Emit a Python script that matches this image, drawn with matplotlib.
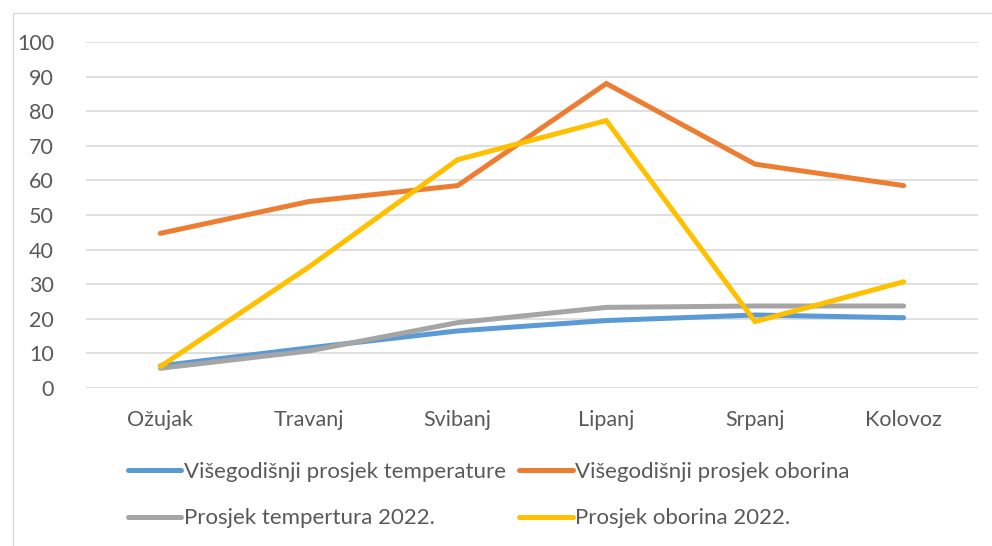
import matplotlib.pyplot as plt
from matplotlib.patches import Rectangle

# Data
months = ["Ožujak", "Travanj", "Svibanj", "Lipanj", "Srpanj", "Kolovoz"]
temp_avg = [6.4, 11.6, 16.5, 19.5, 21.1, 20.3]
rain_avg = [44.7, 53.9, 58.5, 88.0, 64.7, 58.5]
temp_2022 = [5.7, 10.7, 18.9, 23.3, 23.7, 23.7]
rain_2022 = [6.2, 35.0, 66.0, 77.3, 19.2, 30.7]
labels = ["Višegodišnji prosjek temperature", "Višegodišnji prosjek oborina",
          "Prosjek tempertura 2022.", "Prosjek oborina 2022."]
colors = ["#5b9bd5", "#ed7d31", "#a5a5a5", "#ffc000"]

plt.rcParams['font.family'] = ['Lato', 'DejaVu Sans']
txt = "#595959"

fig = plt.figure(figsize=(9.92, 5.46), dpi=100)
fig.patches.append(Rectangle((13 / 992, -0.01), 1.0, 1 - 13 / 546 + 0.01,
                             transform=fig.transFigure, fill=False,
                             edgecolor="#d9d9d9", linewidth=1))
ax = fig.add_axes([86 / 992, 1 - 388 / 546, (978 - 86) / 992, (388 - 42) / 546])

x = range(len(months))
series = [temp_avg, rain_avg, temp_2022, rain_2022]
lines = []
for vals, lab, col in zip(series, labels, colors):
    ln, = ax.plot(x, vals, color=col, linewidth=3.6, label=lab,
                  solid_capstyle="round", solid_joinstyle="miter")
    lines.append(ln)

ax.set_xlim(-0.5, len(months) - 0.5)
ax.set_ylim(0, 100)
ax.set_yticks(range(0, 101, 10))
ax.set_xticks(list(x))
ax.set_xticklabels(months)
ax.grid(axis="y", color="#d9d9d9", linewidth=1.2)
ax.set_axisbelow(True)
for s in ax.spines.values():
    s.set_visible(False)
ax.tick_params(axis="both", length=0, labelsize=15.5, colors=txt)
ax.tick_params(axis="y", pad=23)
ax.tick_params(axis="x", pad=16)

# legend is filled row by row in the reference
order = [0, 2, 1, 3]
leg = fig.legend([lines[i] for i in order], [labels[i] for i in order],
                 loc="center left", bbox_to_anchor=(128 / 992, 1 - 495 / 546),
                 ncol=2, frameon=False, fontsize=16, handlelength=2.4,
                 handletextpad=0.12, columnspacing=0.6, labelspacing=1.2,
                 borderpad=0, borderaxespad=0)
for t in leg.get_texts():
    t.set_color(txt)

fig.savefig("out.png", dpi=100)
